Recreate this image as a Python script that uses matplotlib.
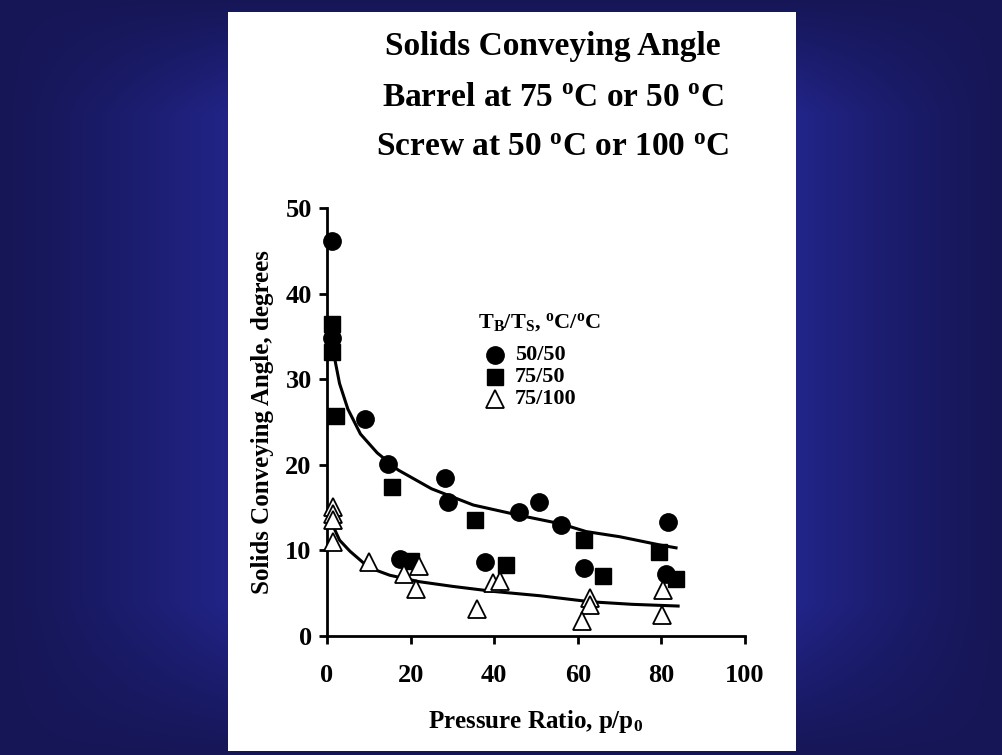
import numpy as np
import matplotlib
matplotlib.use("Agg")
import matplotlib.pyplot as plt
from matplotlib.patches import Rectangle

plt.rcParams['font.family'] = ['Liberation Serif', 'DejaVu Serif']
plt.rcParams['font.weight'] = 'bold'
plt.rcParams['mathtext.fontset'] = 'custom'
plt.rcParams['mathtext.rm'] = 'Liberation Serif:bold'
plt.rcParams['mathtext.it'] = 'Liberation Serif:bold'
plt.rcParams['mathtext.bf'] = 'Liberation Serif:bold'

# ---- data ----
x_5050 = [1.3, 1.3, 9.1, 14.7, 28.2, 29.0, 46.0, 50.8, 56.0, 17.5, 37.7, 61.6, 81.5, 81.0]
y_5050 = [46.1, 34.8, 25.3, 20.1, 18.5, 15.6, 14.45, 15.6, 13.0, 9.0, 8.7, 8.0, 13.3, 7.3]

x_7550 = [1.3, 1.3, 2.2, 15.5, 35.4, 20.0, 42.8, 61.6, 66.0, 79.4, 83.4]
y_7550 = [36.4, 33.2, 25.7, 17.4, 13.5, 8.8, 8.3, 11.2, 7.05, 9.85, 6.65]

x_75100 = [1.4, 1.4, 1.4, 1.4, 10.1, 22.1, 18.5, 21.3, 39.8, 41.4, 36.0, 80.5, 62.9, 62.9, 60.9, 80.1]
y_75100 = [15.1, 14.3, 13.6, 11.0, 8.6, 8.2, 7.2, 5.5, 6.2, 6.4, 3.15, 5.4, 4.4, 3.6, 1.7, 2.45]

fit_upper_x = [1.8, 3, 5, 8, 12, 17, 25, 35, 46, 56, 62, 70, 80, 83.5]
fit_upper_y = [32.5, 29.5, 26.5, 23.6, 21.4, 19.4, 17.2, 15.3, 14.1, 13.1, 12.2, 11.6, 10.6, 10.3]

fit_lower_x = [1.5, 3, 5.5, 10, 15, 22, 30, 40, 51, 63, 73, 84]
fit_lower_y = [12.8, 11.2, 9.9, 8.0, 7.1, 6.35, 5.8, 5.2, 4.7, 4.0, 3.7, 3.5]

x_ticks = [0, 20, 40, 60, 80, 100]
y_ticks = [0, 10, 20, 30, 40, 50]

W, H = 1003, 755
fig = plt.figure(figsize=(W / 100, H / 100), dpi=100)

# ---- background gradient ----
bg = fig.add_axes([0, 0, 1, 1], zorder=-10)
bg.set_axis_off()
xs = np.linspace(0, 1, 400)
ys = np.linspace(0, 1, 300)
dark = np.array([0x16, 0x16, 0x57]) / 255
light = np.array([0x23, 0x26, 0x8e]) / 255
hx = np.where(xs < 0.25, xs / 0.25, np.where(xs > 0.78, 1 - (xs - 0.78) / 0.22, 1.0))
hx = np.clip(hx, 0, 1) ** 1.3
vy = np.clip(np.minimum(ys / 0.15, (1 - ys) / 0.2), 0, 1)
t = hx[None, :] * vy[:, None]
img = dark[None, None, :] * (1 - t[..., None]) + light[None, None, :] * t[..., None]
bg.imshow(img, extent=[0, 1, 0, 1], aspect='auto', origin='upper')
bg.set_xlim(0, 1)
bg.set_ylim(0, 1)
bg.add_patch(Rectangle((228 / W, 1 - 751 / H), (796 - 228) / W, (751 - 12) / H,
                       facecolor='white', edgecolor='none'))

# ---- titles ----
title_lines = ["Solids Conveying Angle",
               r"Barrel at 75 $^{\mathrm{o}}$C or 50 $^{\mathrm{o}}$C",
               r"Screw at 50 $^{\mathrm{o}}$C or 100 $^{\mathrm{o}}$C"]
for i, line in enumerate(title_lines):
    fig.text(553 / W, 1 - (46 + 51 * i) / H, line, ha='center', va='center',
             fontsize=24, fontweight='bold')

# ---- main axes ----
ax = fig.add_axes([327 / W, 1 - 636 / H, (745 - 327) / W, (636 - 208) / H])
ax.set_facecolor('none')
ax.set_xlim(0, 100)
ax.set_ylim(0, 50)
for s in ['top', 'right']:
    ax.spines[s].set_visible(False)
for s in ['left', 'bottom']:
    ax.spines[s].set_linewidth(2.0)
ax.set_xticks(x_ticks)
ax.set_yticks(y_ticks)
ax.tick_params(direction='out', length=6, width=2.0, labelsize=19)
ax.tick_params(axis='x', pad=14)
ax.tick_params(axis='y', pad=5)
for lab in ax.get_xticklabels() + ax.get_yticklabels():
    lab.set_fontweight('bold')

ax.plot(fit_upper_x, fit_upper_y, color='black', lw=2.2, zorder=2)
ax.plot(fit_lower_x, fit_lower_y, color='black', lw=2.2, zorder=2)

ax.plot(x_5050, y_5050, 'o', color='black', ms=12.5, ls='none', clip_on=False, zorder=3)
ax.plot(x_7550, y_7550, 's', color='black', ms=11.5, ls='none', clip_on=False, zorder=3)
ax.plot(x_75100, y_75100, '^', mfc='white', mec='black', mew=1.3, ms=13, ls='none',
        clip_on=False, zorder=4)

ax.set_xlabel(r"Pressure Ratio, p/p$_0$", fontsize=18, fontweight='bold', labelpad=15)
ax.set_ylabel("Solids Conveying Angle, degrees", fontsize=18, fontweight='bold', labelpad=8)

# ---- legend ----
fig.text(539 / W, 1 - 323 / H, r"T$_\mathrm{B}$/T$_\mathrm{S}$, $^{\mathrm{o}}$C/$^{\mathrm{o}}$C",
         ha='center', va='center', fontsize=16, fontweight='bold')
leg_labels = ["50/50", "75/50", "75/100"]
leg_y = [355, 377, 399]
lax = fig.add_axes([0, 0, 1, 1], zorder=5)
lax.set_axis_off()
lax.set_xlim(0, W)
lax.set_ylim(H, 0)
lax.plot([495], [leg_y[0]], 'o', color='black', ms=12.5)
lax.plot([495], [leg_y[1]], 's', color='black', ms=11.5)
lax.plot([495], [leg_y[2]], '^', mfc='white', mec='black', mew=1.3, ms=13)
for lab, yy in zip(leg_labels, leg_y):
    lax.text(515, yy, lab, ha='left', va='center', fontsize=16, fontweight='bold')

fig.savefig("out.png", dpi=100)
